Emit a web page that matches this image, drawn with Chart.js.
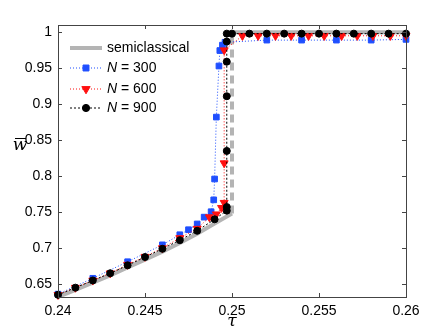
<!DOCTYPE html>
<html>
<head>
<meta charset="utf-8">
<script src="https://cdn.jsdelivr.net/npm/chart.js@4.4.0/dist/chart.umd.min.js"></script>
<style>
  body { margin: 0; background: #fff; }
  #wrap { width: 447px; height: 336px; }
</style>
</head>
<body>
<div id="wrap"><canvas id="myChart" width="447" height="336"></canvas></div>
<script>
// values (tau on x, w-bar on y)
const xTicks = [0.24, 0.245, 0.25, 0.255, 0.26];
const yTicks = [0.65, 0.7, 0.75, 0.8, 0.85, 0.9, 0.95, 1];

const semiX = [0.240, 0.241, 0.242, 0.243, 0.244, 0.245, 0.246, 0.247, 0.248, 0.249, 0.2495, 0.250, 0.250, 0.260];
const semiY = [0.632, 0.642, 0.652, 0.662, 0.673, 0.684, 0.695, 0.707, 0.720, 0.734, 0.741, 0.748, 1.0, 1.0];

const n300X = [0.240, 0.242, 0.244, 0.246, 0.247, 0.2475, 0.248, 0.2484, 0.2488, 0.24895, 0.2490, 0.2491, 0.24925, 0.2493, 0.24945, 0.2496, 0.252, 0.254, 0.256, 0.258, 0.260];
const n300Y = [0.636, 0.658, 0.681, 0.7045, 0.7185, 0.7255, 0.7335, 0.743, 0.7505, 0.767, 0.796, 0.882, 0.953, 0.9745, 0.982, 0.986, 0.989, 0.989, 0.989, 0.989, 0.990];

const n600X = [0.240, 0.241, 0.242, 0.243, 0.244, 0.245, 0.246, 0.247, 0.248, 0.2487, 0.2491, 0.2494, 0.24955, 0.24955, 0.24955, 0.2506, 0.2515, 0.2525, 0.2534, 0.2544, 0.2553, 0.2563, 0.2572, 0.2581, 0.2591, 0.260];
const n600Y = [0.635, 0.645, 0.655, 0.665, 0.677, 0.688, 0.700, 0.714, 0.727, 0.743, 0.747, 0.756, 0.763, 0.818, 0.975, 0.995, 0.995, 0.995, 0.995, 0.995, 0.995, 0.995, 0.995, 0.995, 0.995, 0.995];

const n900X = [0.240, 0.241, 0.242, 0.243, 0.244, 0.245, 0.246, 0.247, 0.248, 0.249, 0.2497, 0.2497, 0.2497, 0.2497, 0.2497, 0.2497, 0.2497, 0.250, 0.251, 0.252, 0.253, 0.254, 0.255, 0.256, 0.257, 0.258, 0.259, 0.260];
const n900Y = [0.635, 0.645, 0.655, 0.665, 0.676, 0.6875, 0.699, 0.711, 0.724, 0.740, 0.752, 0.757, 0.835, 0.911, 0.959, 0.987, 0.998, 0.998, 0.998, 0.998, 0.998, 0.998, 0.998, 0.998, 0.998, 0.998, 0.998, 0.998];

const toPts = (xs, ys) => xs.map((x, i) => ({x: x, y: ys[i]}));

const GRAY = '#b4b4b4';
const BLUE = '#1f4fff';
const RED = '#ff1010';
const BLACK = '#000000';
const AXIS = '#444444';
const FONT = 'Liberation Sans, Arial, sans-serif';

// frame, inward ticks, legend and axis symbols
const framePlugin = {
    id: 'frame',
    afterDraw(chart) {
        const ctx = chart.ctx;
        const a = chart.chartArea;
        const xs = chart.scales.x, ys = chart.scales.y;
        ctx.save();
        ctx.strokeStyle = AXIS;
        ctx.lineWidth = 1;
        ctx.strokeRect(a.left + 0.5, a.top + 0.5, a.right - a.left, a.bottom - a.top);
        ctx.beginPath();
        xTicks.forEach(v => {
            const px = Math.round(xs.getPixelForValue(v)) + 0.5;
            ctx.moveTo(px, a.bottom); ctx.lineTo(px, a.bottom - 4);
            ctx.moveTo(px, a.top); ctx.lineTo(px, a.top + 4);
        });
        yTicks.forEach(v => {
            const py = Math.round(ys.getPixelForValue(v)) + 0.5;
            ctx.moveTo(a.left, py); ctx.lineTo(a.left + 4, py);
            ctx.moveTo(a.right, py); ctx.lineTo(a.right - 4, py);
        });
        ctx.stroke();

        // legend
        const lx0 = 70, lx1 = 102, tx = 107;
        const rows = [
            {y: 48, color: GRAY, width: 4, dash: [], text: 'semiclassical'},
            {y: 68, color: BLUE, width: 1, dash: [1, 2], style: 'rect', r: 4.2, rot: 0, n: '300'},
            {y: 89, color: RED, width: 1, dash: [1, 2], style: 'triangle', r: 4.8, rot: 180, n: '600'},
            {y: 108, color: BLACK, width: 1, dash: [2, 2], style: 'circle', r: 3.6, rot: 0, n: '900'}
        ];
        rows.forEach(r => {
            ctx.beginPath();
            ctx.setLineDash(r.dash);
            ctx.strokeStyle = r.color;
            ctx.lineWidth = r.width;
            ctx.moveTo(lx0, r.y); ctx.lineTo(lx1, r.y);
            ctx.stroke();
            ctx.setLineDash([]);
            if (r.style) {
                ctx.fillStyle = r.color;
                ctx.strokeStyle = r.color;
                ctx.lineWidth = 1;
                Chart.helpers.drawPoint(ctx, {pointStyle: r.style, radius: r.r, rotation: r.rot, borderWidth: 1}, (lx0 + lx1) / 2, r.y);
            }
            ctx.fillStyle = '#000';
            ctx.textBaseline = 'middle';
            ctx.textAlign = 'left';
            if (r.text) {
                ctx.font = '14px ' + FONT;
                ctx.fillText(r.text, tx, r.y);
            } else {
                ctx.font = 'italic 14px ' + FONT;
                ctx.fillText('N', tx, r.y);
                const w = ctx.measureText('N').width;
                ctx.font = '14px ' + FONT;
                ctx.fillText(' = ' + r.n, tx + w, r.y);
            }
        });

        // axis symbols
        ctx.fillStyle = '#000';
        ctx.textAlign = 'center';
        ctx.textBaseline = 'middle';
        ctx.font = 'italic 17px DejaVu Serif, serif';
        ctx.fillText('\u03c4', xs.getPixelForValue(0.25), 322);
        ctx.fillText('w', 20, 146);
        ctx.beginPath();
        ctx.strokeStyle = '#000';
        ctx.lineWidth = 1;
        ctx.moveTo(15, 138.5); ctx.lineTo(26, 138.5);
        ctx.stroke();
        ctx.restore();
    }
};

const ctx = document.getElementById('myChart');
const myChart = new Chart(ctx, {
    type: 'scatter',
    data: {
        datasets: [{
            label: 'semiclassical',
            data: toPts(semiX, semiY),
            showLine: true,
            borderColor: GRAY,
            borderWidth: 4,
            pointRadius: 0,
            order: 4,
            segment: {
                borderDash: c => (c.p0DataIndex === semiX.length - 3 ? [8, 5] : undefined)
            }
        },
        {
            label: 'N = 300',
            data: toPts(n300X, n300Y),
            showLine: true,
            borderColor: BLUE,
            backgroundColor: BLUE,
            borderWidth: 1,
            borderDash: [1, 2],
            pointStyle: 'rect',
            pointRadius: 4,
            pointBorderWidth: 1,
            order: 3,
            clip: false
        },
        {
            label: 'N = 600',
            data: toPts(n600X, n600Y),
            showLine: true,
            borderColor: RED,
            backgroundColor: RED,
            borderWidth: 1,
            borderDash: [1, 2],
            pointStyle: 'triangle',
            pointRotation: 180,
            pointRadius: 4.6,
            pointBorderWidth: 1,
            order: 2,
            clip: false
        },
        {
            label: 'N = 900',
            data: toPts(n900X, n900Y),
            showLine: true,
            borderColor: BLACK,
            backgroundColor: BLACK,
            borderWidth: 1,
            borderDash: [2, 2],
            pointStyle: 'circle',
            pointRadius: 3.5,
            pointBorderWidth: 1,
            order: 1,
            clip: false
        }]
    },
    options: {
        responsive: false,
        animation: false,
        events: [],
        layout: {
            padding: {top: 25, right: 41, left: 0, bottom: 0}
        },
        scales: {
            x: {
                type: 'linear',
                min: 0.24,
                max: 0.26,
                afterBuildTicks: s => { s.ticks = xTicks.map(v => ({value: v})); },
                afterFit: s => { s.height = 39; },
                grid: {display: false, drawTicks: false},
                border: {display: false},
                ticks: {
                    color: '#000',
                    padding: 6,
                    maxRotation: 0,
                    font: {size: 14, family: FONT},
                    callback: v => String(v)
                }
            },
            y: {
                type: 'linear',
                min: 0.632,
                max: 1.01,
                afterBuildTicks: s => { s.ticks = yTicks.map(v => ({value: v})); },
                afterFit: s => { s.width = 58; },
                grid: {display: false, drawTicks: false},
                border: {display: false},
                ticks: {
                    color: '#000',
                    padding: 6,
                    font: {size: 14, family: FONT},
                    callback: v => String(v)
                }
            }
        },
        plugins: {
            legend: {display: false},
            tooltip: {enabled: false}
        }
    },
    plugins: [framePlugin]
});
</script>
</body>
</html>
